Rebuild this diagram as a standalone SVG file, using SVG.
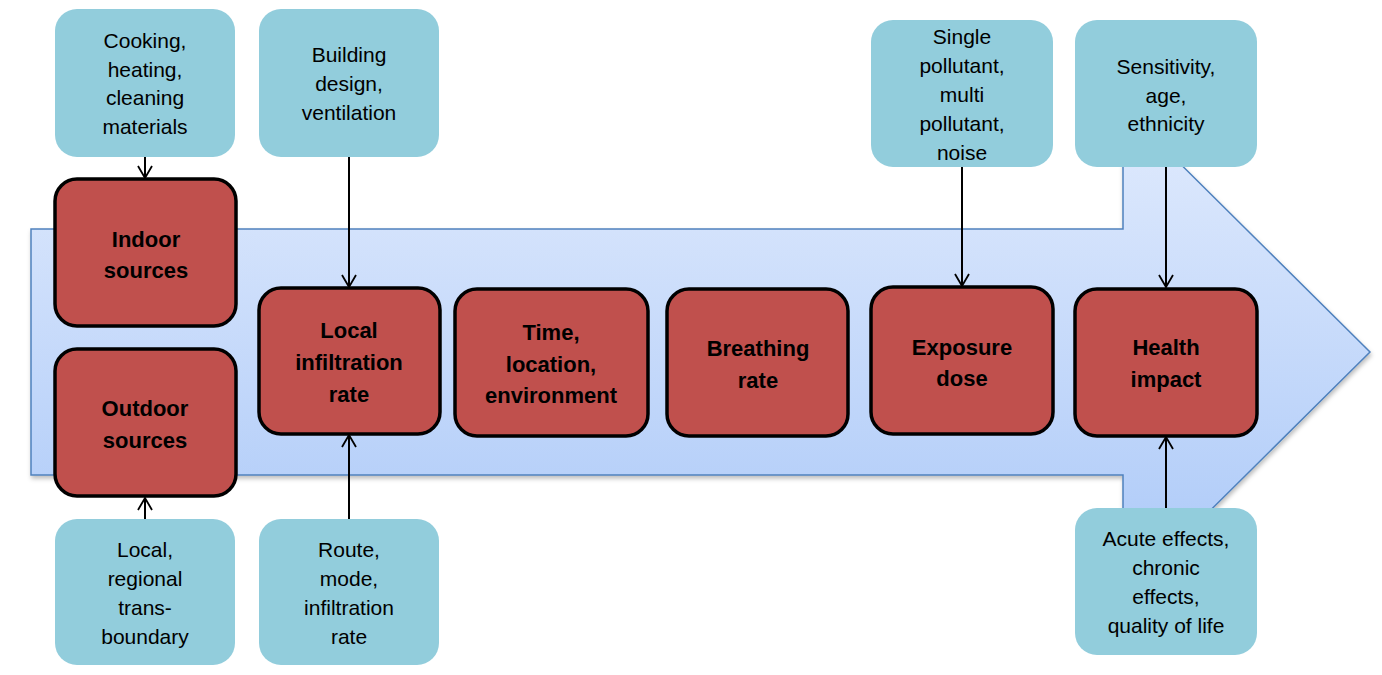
<svg xmlns="http://www.w3.org/2000/svg" width="1382" height="675" viewBox="0 0 1382 675">
<style>
.src{fill:#92cddc;}
.stage{fill:#c0504d;stroke:#000;stroke-width:3.5;}
.t{font-family:"Liberation Sans",Arial,sans-serif;font-size:21px;fill:#000;text-anchor:middle;}
.b{font-family:"Liberation Sans",Arial,sans-serif;font-size:22px;font-weight:bold;fill:#000;text-anchor:middle;}
.c{stroke:#000;stroke-width:2;fill:none;marker-end:url(#ah);}
</style>
<defs>
<linearGradient id="g" x1="0" y1="0" x2="0" y2="1">
<stop offset="0" stop-color="#e1ebfd"/>
<stop offset="1" stop-color="#aac8f8"/>
</linearGradient>
<filter id="sh" x="-5%" y="-5%" width="110%" height="115%">
<feDropShadow dx="1" dy="3" stdDeviation="2" flood-color="#000" flood-opacity="0.25"/>
</filter>
<marker id="ah" viewBox="0 0 14 16" refX="13" refY="8" markerWidth="14" markerHeight="16" markerUnits="userSpaceOnUse" orient="auto">
<path d="M1,1 L13,8 L1,15" fill="none" stroke="#000" stroke-width="1.8"/>
</marker>
</defs>
<g id="arrow">
<polygon points="31,229 1123,229 1123,107 1370,352 1123,597 1123,475 31,475" fill="url(#g)" stroke="#4f81bd" stroke-width="1.5" filter="url(#sh)"/>
</g>
<g id="connectors">
<line class="c" x1="145" y1="157" x2="145" y2="178"/>
<line class="c" x1="349" y1="157" x2="349" y2="287"/>
<line class="c" x1="145" y1="519" x2="145" y2="498"/>
<line class="c" x1="349" y1="519" x2="349" y2="435"/>
<line class="c" x1="962" y1="167" x2="962" y2="286"/>
<line class="c" x1="1166" y1="167" x2="1166" y2="287"/>
<line class="c" x1="1166" y1="508" x2="1166" y2="437"/>
</g>
<g id="cooking"><rect class="src" x="55" y="9" width="180" height="148" rx="22"/>
<text class="t"><tspan x="145" y="48">Cooking,</tspan><tspan x="145" y="77">heating,</tspan><tspan x="145" y="105">cleaning</tspan><tspan x="145" y="134">materials</tspan></text></g>
<g id="building"><rect class="src" x="259" y="9" width="180" height="148" rx="22"/>
<text class="t"><tspan x="349" y="62">Building</tspan><tspan x="349" y="91">design,</tspan><tspan x="349" y="120">ventilation</tspan></text></g>
<g id="single"><rect class="src" x="871" y="20" width="182" height="147" rx="22"/>
<text class="t"><tspan x="962" y="44">Single</tspan><tspan x="962" y="73">pollutant,</tspan><tspan x="962" y="102">multi</tspan><tspan x="962" y="131">pollutant,</tspan><tspan x="962" y="160">noise</tspan></text></g>
<g id="sensitivity"><rect class="src" x="1075" y="20" width="182" height="147" rx="22"/>
<text class="t"><tspan x="1166" y="74">Sensitivity,</tspan><tspan x="1166" y="103">age,</tspan><tspan x="1166" y="131">ethnicity</tspan></text></g>
<g id="local-regional"><rect class="src" x="55" y="519" width="180" height="146" rx="22"/>
<text class="t"><tspan x="145" y="557">Local,</tspan><tspan x="145" y="586">regional</tspan><tspan x="145" y="615">trans-</tspan><tspan x="145" y="644">boundary</tspan></text></g>
<g id="route"><rect class="src" x="259" y="519" width="180" height="146" rx="22"/>
<text class="t"><tspan x="349" y="557">Route,</tspan><tspan x="349" y="586">mode,</tspan><tspan x="349" y="615">infiltration</tspan><tspan x="349" y="644">rate</tspan></text></g>
<g id="acute"><rect class="src" x="1075" y="508" width="182" height="147" rx="22"/>
<text class="t"><tspan x="1166" y="546">Acute effects,</tspan><tspan x="1166" y="575">chronic</tspan><tspan x="1166" y="604">effects,</tspan><tspan x="1166" y="633">quality of life</tspan></text></g>
<g id="indoor"><rect class="stage" x="55" y="179" width="181" height="147" rx="22"/>
<text class="b"><tspan x="146" y="247">Indoor</tspan><tspan x="146" y="278">sources</tspan></text></g>
<g id="outdoor"><rect class="stage" x="55" y="349" width="181" height="147" rx="22"/>
<text class="b"><tspan x="145" y="416">Outdoor</tspan><tspan x="145" y="448">sources</tspan></text></g>
<g id="infiltration"><rect class="stage" x="259" y="288" width="181" height="146" rx="22"/>
<text class="b"><tspan x="349" y="338">Local</tspan><tspan x="349" y="370">infiltration</tspan><tspan x="349" y="402">rate</tspan></text></g>
<g id="time"><rect class="stage" x="455" y="289" width="193" height="147" rx="22"/>
<text class="b"><tspan x="551" y="340">Time,</tspan><tspan x="551" y="372">location,</tspan><tspan x="551" y="403">environment</tspan></text></g>
<g id="breathing"><rect class="stage" x="667" y="289" width="181" height="147" rx="22"/>
<text class="b"><tspan x="758" y="356">Breathing</tspan><tspan x="758" y="388">rate</tspan></text></g>
<g id="exposure"><rect class="stage" x="871" y="287" width="182" height="147" rx="22"/>
<text class="b"><tspan x="962" y="355">Exposure</tspan><tspan x="962" y="386">dose</tspan></text></g>
<g id="health"><rect class="stage" x="1075" y="289" width="182" height="147" rx="22"/>
<text class="b"><tspan x="1166" y="355">Health</tspan><tspan x="1166" y="387">impact</tspan></text></g>
</svg>
